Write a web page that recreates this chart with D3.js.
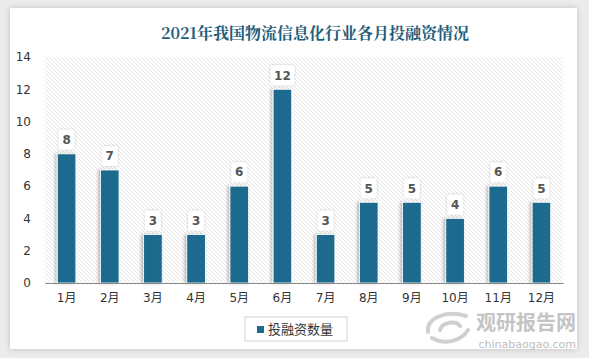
<!DOCTYPE html>
<html>
<head>
<meta charset="utf-8">
<script src="https://cdn.jsdelivr.net/npm/d3@7"></script>
<style>
  body { margin: 0; background: #ececec; }
  svg { display: block; }
</style>
</head>
<body>
<svg id="chart" width="589" height="358"></svg>
<script>
// chart data
const months = ["1月","2月","3月","4月","5月","6月","7月","8月","9月","10月","11月","12月"];
const counts = [8, 7, 3, 3, 6, 12, 3, 5, 5, 4, 6, 5];
const yTicks = [0, 2, 4, 6, 8, 10, 12, 14];
const title = "2021年我国物流信息化行业各月投融资情况";
const seriesName = "投融资数量";

const barColor = "#1d6a8d";
var svg = d3.select("#chart");
const margin = {top: 57, right: 26, bottom: 75, left: 45};
const width  = +svg.attr("width") - margin.left - margin.right;
const height = +svg.attr("height") - margin.top - margin.bottom;

var defs = svg.append("defs");
var pat = defs.append("pattern").attr("id","hatch")
  .attr("patternUnits","userSpaceOnUse").attr("width",4).attr("height",4);
pat.append("path").attr("d","M-1,-1 L5,5 M-1,3 L1,5 M3,-1 L5,1")
  .attr("stroke","#e2e2e2").attr("stroke-width",0.9);

var sh = defs.append("filter").attr("id","shadow")
  .attr("x","-50%").attr("y","-20%").attr("width","200%").attr("height","140%");
sh.append("feDropShadow").attr("dx",-2).attr("dy",0).attr("stdDeviation",1.5)
  .attr("flood-color","#000").attr("flood-opacity",0.25);
var sh2 = defs.append("filter").attr("id","lblshadow")
  .attr("x","-50%").attr("y","-50%").attr("width","200%").attr("height","200%");
sh2.append("feDropShadow").attr("dx",0).attr("dy",0).attr("stdDeviation",1)
  .attr("flood-color","#000").attr("flood-opacity",0.25);
var cardSh = defs.append("filter").attr("id","cardshadow")
  .attr("x","-10%").attr("y","-10%").attr("width","120%").attr("height","120%");
cardSh.append("feDropShadow").attr("dx",0).attr("dy",0).attr("stdDeviation",3)
  .attr("flood-color","#000").attr("flood-opacity",0.2);

// white card
svg.append("rect").attr("x",10).attr("y",8).attr("width",567).attr("height",341)
  .attr("fill","#fff").attr("filter","url(#cardshadow)");

svg.append("text")
  .attr("x",315).attr("y",39)
  .attr("text-anchor","middle")
  .attr("fill","#1f5d78")
  .style("font-family","'Noto Serif CJK SC','Liberation Serif','Noto Sans CJK SC',serif")
  .style("font-weight","bold")
  .style("font-size","16px")
  .text(title);

var x = d3.scaleBand().domain(months).range([0, width]).paddingInner(0.57).paddingOuter(0.285);
var y = d3.scaleLinear().domain([0, 14]).range([height, 0]);

var g = svg.append("g").attr("transform","translate(" + margin.left + "," + margin.top + ")");

g.append("rect").attr("width",width).attr("height",height).attr("fill","url(#hatch)");

// y axis labels
var yAxis = g.append("g").call(d3.axisLeft(y).tickValues(yTicks).tickSize(0).tickPadding(14));
yAxis.select(".domain").remove();
yAxis.selectAll("text").attr("fill","#333")
  .style("font-family","'DejaVu Sans',sans-serif").style("font-size","12px");

// bars
g.selectAll(".bar").data(counts).enter().append("rect")
  .attr("class","bar")
  .attr("x",(d,i)=>x(months[i]))
  .attr("y",d=>y(d))
  .attr("width",x.bandwidth())
  .attr("height",d=>height - y(d))
  .attr("fill",barColor)
  .attr("stroke","#fff").attr("stroke-width",0.8)
  .attr("filter","url(#shadow)");

// x axis
var xAxis = g.append("g").attr("transform","translate(0," + height + ")")
  .call(d3.axisBottom(x).tickSize(0).tickPadding(10));
xAxis.select(".domain").attr("stroke","#888").attr("stroke-width",1.2);
xAxis.selectAll("text").attr("fill","#333")
  .style("font-family","'DejaVu Sans','Noto Sans CJK SC',sans-serif").style("font-size","12px");

// data labels
var lbl = g.selectAll(".lbl").data(counts).enter().append("g")
  .attr("class","lbl")
  .attr("transform",(d,i)=>"translate(" + (x(months[i]) + x.bandwidth()/2) + "," + (y(d) - 14) + ")");
lbl.append("rect")
  .attr("x",d=> d >= 10 ? -12 : -8).attr("y",-10)
  .attr("width",d=> d >= 10 ? 24 : 16).attr("height",20)
  .attr("rx",2).attr("fill","#fff").attr("filter","url(#lblshadow)");
lbl.append("text")
  .attr("text-anchor","middle").attr("dy","0.36em")
  .attr("fill","#555")
  .style("font-family","'DejaVu Sans',sans-serif").style("font-weight","bold").style("font-size","12px")
  .text(d=>d);

// legend
var leg = svg.append("g").attr("transform","translate(245,317)");
leg.append("rect").attr("width",102).attr("height",24)
  .attr("fill","#fff").attr("stroke","#d0d0d0");
leg.append("rect").attr("x",12).attr("y",9).attr("width",7).attr("height",7).attr("fill",barColor);
leg.append("text").attr("x",23).attr("y",17)
  .attr("fill","#333")
  .style("font-family","'Noto Sans CJK SC',sans-serif").style("font-size","13px")
  .text(seriesName);

// watermark
var wm = svg.append("g");
wm.append("path")
  .attr("d","M428,332 C426,318 446,310 466,316 M432,338 C446,346 462,340 468,330 M440,330 C442,322 456,320 460,326")
  .attr("fill","none").attr("stroke","#d0d0d0").attr("stroke-width",4).attr("stroke-linecap","round");
wm.append("text").attr("x",576).attr("y",330).attr("text-anchor","end")
  .attr("fill","#c4c4c4")
  .style("font-family","'Noto Sans CJK SC',sans-serif").style("font-weight","bold").style("font-size","20px")
  .text("观研报告网");
wm.append("text").attr("x",576).attr("y",348).attr("text-anchor","end")
  .attr("fill","#bdbdbd")
  .style("font-family","'DejaVu Sans',sans-serif").style("font-size","11px")
  .text("chinabaogao.com");
</script>
</body>
</html>
